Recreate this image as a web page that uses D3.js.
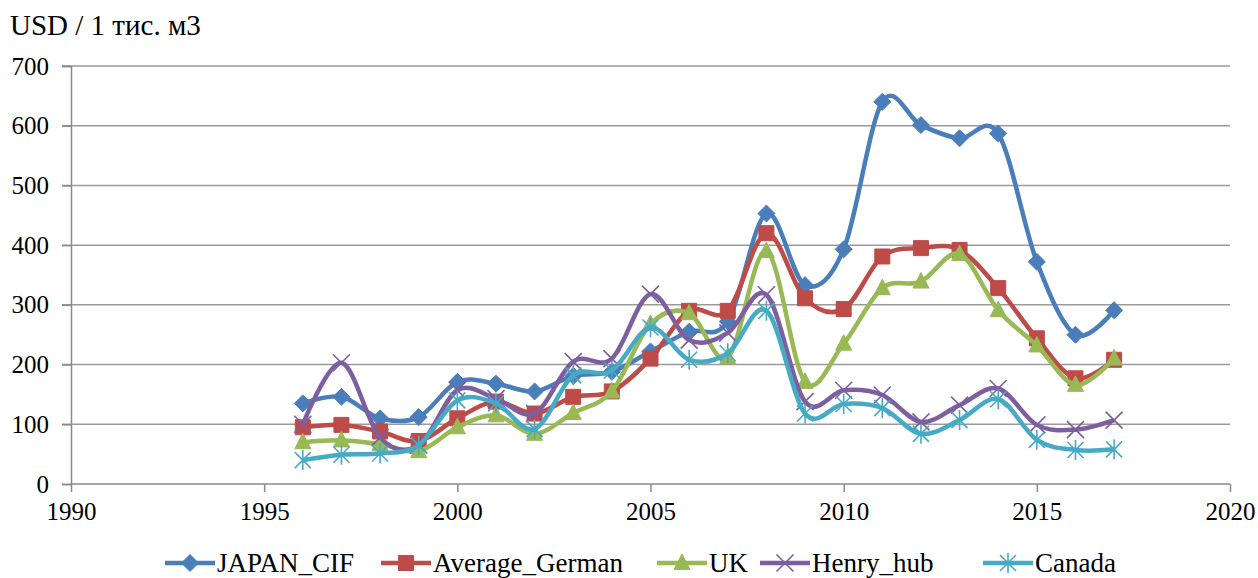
<!DOCTYPE html>
<html><head><meta charset="utf-8">
<script src="https://cdn.jsdelivr.net/npm/d3@7"></script>
<style>
html,body{margin:0;padding:0;background:#fff;}
svg text{font-family:'Liberation Serif','Times New Roman',Times,serif;fill:#000;}
</style></head>
<body><svg id="chart" width="1258" height="578"></svg>
<script>
const years = [1996,1997,1998,1999,2000,2001,2002,2003,2004,2005,2006,2007,2008,2009,2010,2011,2012,2013,2014,2015,2016,2017];
const japanCIF = [135,146,110,112,171,168,155,181,188,222,255,272,453,333,393,640,601,579,587,372,250,291];
const averageGerman = [95,99,88,72,110,138,118,146,155,210,290,290,420,311,293,381,395,392,328,244,177,208];
const uk = [70,73,67,55,95,115,84,119,155,268,286,212,390,171,235,328,339,385,291,232,166,210];
const henryHub = [100,203,78,65,157,143,118,205,210,318,241,253,317,138,157,149,104,132,160,99,91,107];
const canada = [40,49,51,65,140,135,92,182,190,262,208,219,290,118,134,127,84,107,142,74,57,58];
const seriesNames = ["JAPAN_CIF","Average_German","UK","Henry_hub","Canada"];
const xTicks = [1990,1995,2000,2005,2010,2015,2020];
const yTicks = [0,100,200,300,400,500,600,700];
const yTitle = "USD / 1 тис. м3";

const colors = ["#4A7EBB","#BE4B48","#98B954","#7D5FA0","#46AAC5"];
const markerKinds = ["diamond","square","triangle","x","star"];
const values = [japanCIF, averageGerman, uk, henryHub, canada];
const legendX = [165,381,657,760,983];
const FONT = "'Liberation Serif','Times New Roman',Times,serif";

const svg = d3.select("#chart");
const x = d3.scaleLinear().domain([1990,2020]).range([71,1230]);
const y = d3.scaleLinear().domain([0,700]).range([484,66]);

// title
svg.append("text").attr("x",10).attr("y",35).attr("font-size",29).attr("font-family",FONT).text(yTitle);

// gridlines
svg.append("g").selectAll("line").data(yTicks.filter(d=>d>0)).join("line")
  .attr("x1",62).attr("x2",1230).attr("y1",d=>y(d)).attr("y2",d=>y(d))
  .attr("stroke","#9a9a9a").attr("stroke-width",1.5);

// y axis
const yAxis = svg.append("g").attr("transform","translate(71,0)")
  .call(d3.axisLeft(y).tickValues(yTicks).tickSize(9).tickPadding(13).tickFormat(d3.format("d")));
yAxis.attr("font-family",FONT);
yAxis.select(".domain").attr("stroke","#8a8a8a").attr("stroke-width",1.5);
yAxis.selectAll(".tick line").attr("stroke","#8a8a8a").attr("stroke-width",1.5);
yAxis.selectAll("text").attr("font-size",25).attr("font-family",FONT).attr("fill","#000");

// x axis
const xAxis = svg.append("g").attr("transform","translate(0,484)")
  .call(d3.axisBottom(x).tickValues(xTicks).tickSize(8).tickPadding(10).tickFormat(d3.format("d")));
xAxis.attr("font-family",FONT);
xAxis.select(".domain").attr("stroke","#8a8a8a").attr("stroke-width",1.5).attr("d","M71,0H1230");
xAxis.selectAll(".tick line").attr("stroke","#8a8a8a").attr("stroke-width",1.5);
xAxis.selectAll("text").attr("font-size",25).attr("font-family",FONT).attr("fill","#000");

function markerPath(kind){
  switch(kind){
    case "diamond": return "M0,-8.5L8.5,0L0,8.5L-8.5,0Z";
    case "square": return "M-7.5,-7.5H7.5V7.5H-7.5Z";
    case "triangle": return "M0,-9L8,6.5H-8Z";
    case "x": return "M-8.5,-8.5L8.5,8.5M-8.5,8.5L8.5,-8.5";
    case "star": return "M-8,-8L8,8M-8,8L8,-8M0,-10V10";
  }
}
function drawMarker(g, kind, color, cx, cy){
  const p = g.append("path").attr("d", markerPath(kind)).attr("transform",`translate(${cx},${cy})`);
  if(kind==="x"||kind==="star") p.attr("fill","none").attr("stroke",color).attr("stroke-width",1.6);
  else p.attr("fill",color).attr("stroke",color).attr("stroke-width",1);
}

const line = d3.line().x((d,i)=>x(years[i])).y(d=>y(d)).curve(d3.curveCatmullRom.alpha(0));

values.forEach((vals,si)=>{
  const g = svg.append("g");
  g.append("path").datum(vals).attr("d",line).attr("fill","none")
    .attr("stroke",colors[si]).attr("stroke-width",4.5).attr("stroke-linejoin","round");
  vals.forEach((v,i)=>drawMarker(g, markerKinds[si], colors[si], x(years[i]), y(v)));
});

// legend
const lg = svg.append("g");
const ly = 563;
seriesNames.forEach((name,si)=>{
  const lx = legendX[si];
  lg.append("line").attr("x1",lx).attr("x2",lx+50).attr("y1",ly).attr("y2",ly)
    .attr("stroke",colors[si]).attr("stroke-width",4.5);
  drawMarker(lg, markerKinds[si], colors[si], lx+25, ly);
  lg.append("text").attr("x",lx+52).attr("y",ly+9).attr("font-size",27).attr("font-family",FONT).text(name);
});
</script></body></html>
